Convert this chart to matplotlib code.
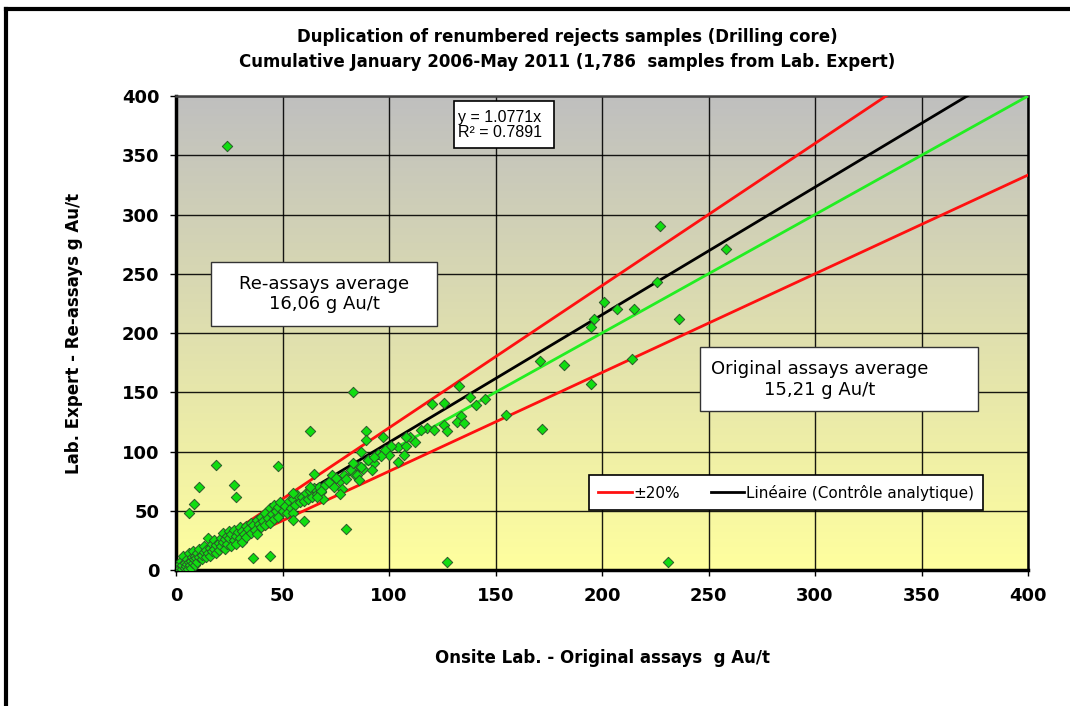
import numpy as np
import matplotlib
matplotlib.use('Agg')
import matplotlib.pyplot as plt
from matplotlib.patches import Rectangle
from matplotlib.lines import Line2D

# outliers and scattered points (original, re-assay)
onsite = [24, 227, 258, 226, 201, 207, 215, 196, 195, 236, 214, 171, 182, 195,
          133, 126, 138, 145, 141, 134, 132, 135, 126, 127, 155, 172, 83, 63,
          89, 89, 97, 87, 101, 98, 96, 90, 93, 92, 87, 85, 86, 83, 104, 107,
          108, 115, 120, 65, 73, 75, 78, 77, 68, 69, 66, 63, 55, 55, 55, 60,
          80, 127, 231, 19, 48, 11, 27, 28, 8.5, 6, 36, 44]
reassay = [358, 290, 271, 243, 226, 220, 220, 212, 205, 212, 178, 176, 173, 157,
           155, 141, 146, 144, 139, 130, 125, 124, 122, 117, 131, 119, 150, 117,
           117, 110, 112, 100, 105, 101, 96, 93, 95, 84, 87, 80, 76, 90, 91, 97,
           112, 118, 140, 81, 80, 78, 68, 64, 67, 60, 62, 70, 65, 48, 42, 41,
           35, 7, 7, 89, 88, 70, 72, 62, 56, 48, 10, 12]

# dense cluster along the 1:1 line
cluster_x = [0.5, 1, 1.5, 2, 2, 2.5, 3, 3, 3.5, 4, 4, 4.5, 5, 5, 5.5, 6, 6, 6.5, 7, 7,
             7.5, 8, 8, 8.5, 9, 9, 9.5, 10, 10, 11, 11, 12, 12, 13, 13, 14, 14, 15, 15,
             16, 16, 17, 17, 18, 18, 19, 19, 20, 20, 21, 21, 22, 22, 23, 23, 24, 24, 25,
             25, 26, 26, 27, 27, 28, 28, 29, 30, 30, 31, 31, 32, 33, 33, 34, 35, 35, 36,
             37, 38, 38, 39, 40, 40, 41, 42, 42, 43, 44, 44, 45, 46, 46, 47, 48, 48, 49,
             50, 51, 52, 53, 54, 55, 56, 57, 58, 59, 60, 61, 62, 63, 64, 65, 66, 67, 68,
             70, 72, 74, 75, 77, 79, 80, 82, 84, 86, 88, 90, 93, 95, 98, 100, 104, 108,
             110, 112, 118, 121]
cluster_y = [1, 3, 0.5, 2, 5, 8, 1, 4, 12, 2, 6, 3, 5, 9, 1, 7, 14, 4, 8, 2,
             11, 6, 16, 9, 4, 12, 10, 7, 14, 11, 18, 9, 13, 15, 20, 11, 17, 14, 27,
             19, 12, 22, 16, 18, 25, 14, 21, 23, 17, 27, 20, 24, 31, 18, 26, 22, 29, 27,
             33, 20, 30, 25, 34, 29, 22, 32, 27, 36, 33, 24, 30, 37, 28, 35, 31, 40, 38,
             34, 42, 30, 39, 45, 36, 41, 48, 38, 44, 52, 40, 47, 55, 43, 50, 45, 53, 57,
             50, 54, 48, 58, 52, 60, 55, 63, 57, 62, 58, 65, 60, 67, 62, 69, 64, 70, 66,
             72, 74, 70, 78, 75, 80, 77, 84, 80, 88, 85, 93, 90, 98, 100, 97, 104, 105,
             112, 108, 120, 118]

slope_fit = 1.0771
r2 = 0.7891
band = 0.20
reassay_avg = '16,06'
original_avg = '15,21'

plt.rcParams['font.family'] = ['DejaVu Sans']

fig = plt.figure(figsize=(10.70, 7.06), dpi=100)
ax = fig.add_axes([0.1645, 0.1926, 0.7963, 0.6714])

# gray -> yellow gradient background
grad = np.linspace(0, 1, 256).reshape(-1, 1)
top = np.array([0.75, 0.75, 0.75])
bot = np.array([1.0, 1.0, 0.62])
img = bot[None, None, :] * (1 - grad[:, :, None]) + top[None, None, :] * grad[:, :, None]
ax.imshow(img, extent=[0, 400, 0, 400], origin='lower', aspect='auto', zorder=0)

ax.set_xlim(0, 400)
ax.set_ylim(0, 400)
ticks = np.arange(0, 401, 50)
ax.set_xticks(ticks)
ax.set_yticks(ticks)
ax.grid(color='black', linewidth=1.0, alpha=0.9, zorder=1)

xs = np.array([0, 400])
ax.plot(xs, xs * (1 + band), color='#ff1010', linewidth=2, zorder=3)
ax.plot(xs, xs / (1 + band), color='#ff1010', linewidth=2, zorder=3)
ax.plot(xs, xs, color='#22ee22', linewidth=2, zorder=3)
ax.plot(xs, xs * slope_fit, color='black', linewidth=2, zorder=3)

ax.scatter(cluster_x, cluster_y, marker='D', s=28, facecolor='#11dd11',
           edgecolor='#2a5a2a', linewidth=0.7, zorder=4)
ax.scatter(onsite, reassay, marker='D', s=28, facecolor='#11dd11',
           edgecolor='#2a5a2a', linewidth=0.7, zorder=4)

for sp in ['left', 'bottom']:
    ax.spines[sp].set_linewidth(2.5)
ax.spines['right'].set_linewidth(1.8)
ax.spines['top'].set_linewidth(1.8)
ax.spines['top'].set_color('#444444')

ax.tick_params(axis='both', labelsize=13, length=4, width=1, direction='out', pad=8)
for lab in ax.get_xticklabels() + ax.get_yticklabels():
    lab.set_fontweight('bold')

ax.set_xlabel('Onsite Lab. - Original assays  g Au/t', fontsize=12, fontweight='bold',
              labelpad=32)
ax.set_ylabel('Lab. Expert - Re-assays g Au/t', fontsize=12, fontweight='bold', labelpad=28)

fig.text(0.53, 0.948, 'Duplication of renumbered rejects samples (Drilling core)',
         ha='center', va='center', fontsize=12, fontweight='bold')
fig.text(0.53, 0.912, 'Cumulative January 2006-May 2011 (1,786  samples from Lab. Expert)',
         ha='center', va='center', fontsize=12, fontweight='bold')

# annotation boxes
ax.add_patch(Rectangle((16.4, 206), 106, 54, facecolor='white', edgecolor='#333333',
                       linewidth=1, zorder=5))
ax.text(69.5, 233, 'Re-assays average\n' + reassay_avg + ' g Au/t', ha='center', va='center',
        fontsize=13, multialignment='center', zorder=6)

ax.add_patch(Rectangle((246, 134), 130.5, 54, facecolor='white', edgecolor='#333333',
                       linewidth=1, zorder=5))
ax.text(302, 161, 'Original assays average\n' + original_avg + ' g Au/t', ha='center',
        va='center', fontsize=13, multialignment='center', zorder=6)

ax.add_patch(Rectangle((130.5, 356), 47, 40, facecolor='white', edgecolor='black',
                       linewidth=1.2, zorder=5))
ax.text(132.5, 375.5, 'y = %.4fx\nR² = %.4f' % (slope_fit, r2), ha='left', va='center',
        fontsize=11.5, family='Liberation Sans', linespacing=0.95, zorder=6)

handles = [Line2D([], [], color='#ff1010', linewidth=2),
           Line2D([], [], color='black', linewidth=2)]
leg = ax.legend(handles, ['±20%', 'Linéaire (Contrôle analytique)'], ncol=2,
                loc='center', bbox_to_anchor=(0.716, 0.1635), fontsize=11,
                frameon=True, fancybox=False, handlelength=2.2, handletextpad=0.1,
                columnspacing=2.0, borderpad=0.6)
leg.get_frame().set_edgecolor('black')
leg.get_frame().set_linewidth(1.2)
leg.get_frame().set_facecolor('white')
leg.get_frame().set_alpha(1)
leg.set_zorder(7)

# outer frame of the chart area
fig.add_artist(Line2D([0.006, 0.006], [0, 0.987], transform=fig.transFigure,
                      color='black', linewidth=3))
fig.add_artist(Line2D([0.006, 1.0], [0.987, 0.987], transform=fig.transFigure,
                      color='black', linewidth=3))

fig.savefig('out.png', dpi=100)
